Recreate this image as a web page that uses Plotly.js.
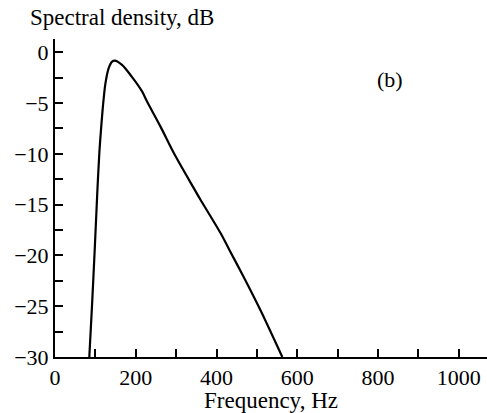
<!DOCTYPE html>
<html>
<head>
<meta charset="utf-8">
<script src="https://cdn.plot.ly/plotly-3.0.1.min.js"></script>
<style>html,body{margin:0;padding:0;background:#fff;}#chart{width:487px;height:413px;}</style>
</head>
<body>
<div id="chart"></div>
<script>
// Frequency (Hz) and spectral density (dB)
const frequencyHz = [85, 91.6, 98.3, 105, 110, 114, 119, 125, 133, 141.5, 148, 166, 190, 216, 228, 261, 298, 344, 360, 410, 432, 467, 509, 563];
const densityDb   = [-30, -25, -19.5, -13.6, -9.8, -7.6, -5.2, -3.05, -1.57, -0.93, -0.83, -1.25, -2.4, -3.88, -4.86, -7.3, -10.2, -13.4, -14.5, -17.8, -19.46, -22.1, -25.4, -30];

const xTickVals = [0, 200, 400, 600, 800, 1000];
const xTickText = ["0", "200", "400", "600", "800", "1000"];
const yTickVals = [0, -5, -10, -15, -20, -25, -30];
const yTickText = ["0", "\u22125", "\u221210", "\u221215", "\u221220", "\u221225", "\u221230"];

const labelFont = {family: "Liberation Serif, Times New Roman, serif", size: 22, color: "#000"};
const titleFont = {family: "Liberation Serif, Times New Roman, serif", size: 23, color: "#000"};

const trace = {
  x: frequencyHz,
  y: densityDb,
  mode: "lines",
  line: {color: "#000", width: 2.2, shape: "spline", smoothing: 0.8},
  hoverinfo: "skip"
};

const layout = {
  width: 487, height: 413,
  margin: {l: 55, r: 0, t: 39, b: 56, pad: 0},
  paper_bgcolor: "#fff", plot_bgcolor: "#fff",
  showlegend: false,
  font: labelFont,
  xaxis: {
    range: [0, 1070],
    showgrid: false, zeroline: false,
    showline: true, linecolor: "#000", linewidth: 2,
    ticks: "inside", ticklen: 8, tickwidth: 2, tickcolor: "#000",
    tickvals: xTickVals, ticktext: xTickText,
    minor: {dtick: 100, tick0: 0, ticks: "inside", ticklen: 8, tickwidth: 2, tickcolor: "#000"},
    tickfont: labelFont,
    title: {text: "Frequency, Hz", font: titleFont, standoff: 0}
  },
  yaxis: {
    range: [-30, 1.3],
    showgrid: false, zeroline: false,
    showline: true, linecolor: "#000", linewidth: 2,
    ticks: "inside", ticklen: 8, tickwidth: 2, tickcolor: "#000",
    tickvals: yTickVals, ticktext: yTickText,
    minor: {dtick: 2.5, tick0: 0, ticks: "inside", ticklen: 8, tickwidth: 2, tickcolor: "#000"},
    tickfont: labelFont
  },
  annotations: [
    {text: "Spectral density, dB", xref: "paper", yref: "paper", x: -0.086, y: 1.0, yshift: 22, xshift: 10,
     xanchor: "left", yanchor: "middle", showarrow: false, font: titleFont},
    {text: "(b)", xref: "x", yref: "y", x: 830, y: -2.7, xanchor: "center", yanchor: "middle",
     showarrow: false, font: labelFont}
  ]
};

Plotly.newPlot("chart", [trace], layout, {staticPlot: true, displayModeBar: false});
</script>
</body>
</html>
